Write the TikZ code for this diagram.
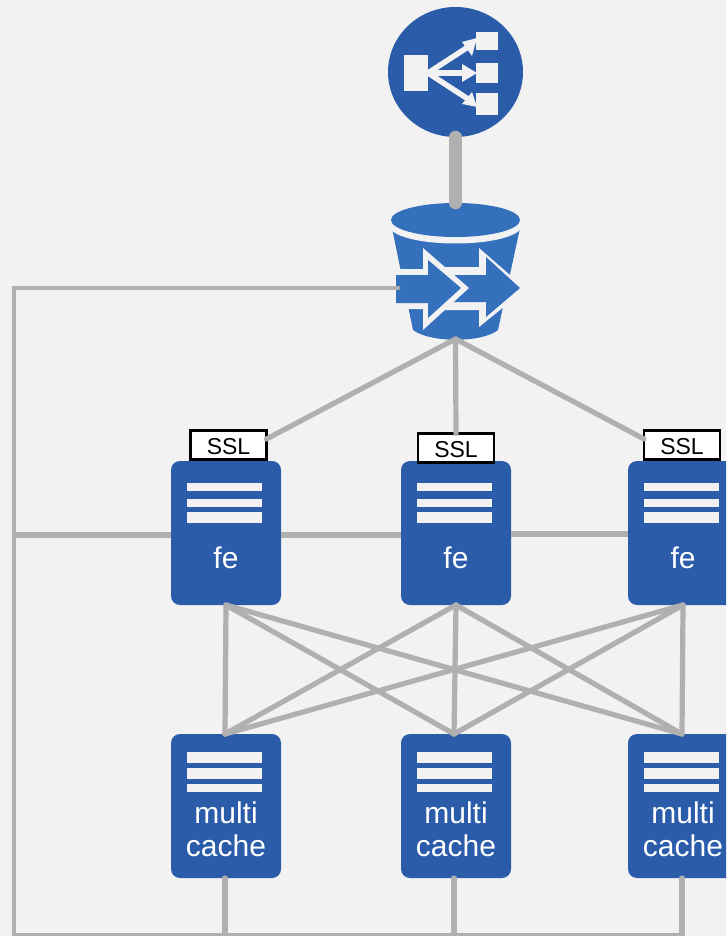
\documentclass[tikz,border=0pt]{standalone}
\usepackage{fontspec}
\setmainfont{Liberation Sans}
\usetikzlibrary{shapes.geometric}
\definecolor{bgc}{HTML}{F2F2F2}
\definecolor{srv}{HTML}{2A5CAA}
\definecolor{bkt}{HTML}{3470BC}
\definecolor{wire}{HTML}{B0B0B0}
\tikzset{
  wirelink/.style={draw=wire,line width=5.2pt,line cap=round,line join=miter},
  heavylink/.style={draw=wire,line width=12.5pt,line cap=round},
  server/.style={draw=none,fill=srv,rounded corners=9pt,minimum width=110pt,minimum height=144pt,inner sep=0pt,outer sep=0pt},
  sslbox/.style={draw=black,line width=2.6pt,fill=white,minimum width=76pt,minimum height=29pt,inner sep=0pt,outer sep=0pt},
  ssltext/.style={text=black,font=\fontsize{23}{23}\selectfont,anchor=base,inner sep=0pt},
  srvtext/.style={text=white,font=\fontsize{30}{30}\selectfont,anchor=base,inner sep=0pt},
  bar/.style={fill=bgc,draw=none},
  icon/.style={fill=bgc,draw=none}
}
\begin{document}
\begin{tikzpicture}[x=1pt,y=-1pt]
\useasboundingbox (0,0) rectangle (726,936);
\clip (0,0) rectangle (726,936);
\fill[bgc] (0,0) rectangle (726,936);

% load balancer
\node[ellipse,fill=srv,draw=none,minimum width=135pt,minimum height=130pt,inner sep=0pt,outer sep=0pt] (lb) at (455.5,72) {};
\fill[icon] (404,55) rectangle (428,91);
\fill[icon] (476,32) rectangle (498,50);
\fill[icon] (476,63) rectangle (498,83);
\fill[icon] (476,93) rectangle (498,115);
\draw[bgc,line width=5.5pt] (428,73) -- (468,47);
\draw[bgc,line width=5.5pt] (428,73) -- (465,73);
\draw[bgc,line width=5.5pt] (428,73) -- (468,99);
\fill[icon] (477,38) -- (462,42) -- (472,56) -- cycle;
\fill[icon] (477,73) -- (462,64) -- (462,82) -- cycle;
\fill[icon] (477,107) -- (462,104) -- (472,92) -- cycle;

% elastic load balancer bucket
\node[minimum width=129pt,minimum height=136pt,inner sep=0pt,outer sep=0pt] (elb) at (455.5,271) {};
\fill[bkt] (392,228) -- (413,330) .. controls (430,343) and (482,343) .. (498,330) -- (520,228) -- cycle;
\fill[bgc] (455.5,226) ellipse [x radius=66, y radius=17.5];
\fill[bkt] (455.5,220) ellipse [x radius=64.5, y radius=17];
% rear arrow
\fill[bgc] (440,267) -- (479,267) -- (479,248) -- (526,289) -- (479,327) -- (479,310) -- (440,310) -- cycle;
\fill[bkt] (440,275) -- (486,275) -- (486,257) -- (520,288) -- (486,317) -- (486,302) -- (440,302) -- cycle;
% front arrow
\fill[bgc] (396,269) -- (423,269) -- (423,248) -- (469,288) -- (423,330) -- (423,309) -- (396,309) -- cycle;
\fill[bkt] (396,275) -- (428,275) -- (428,260) -- (461,288) -- (428,318) -- (428,303) -- (396,303) -- cycle;

% servers
\node[server] (fe1) at (226,533) {};
\node[server] (fe2) at (456,533) {};
\node[server] (fe3) at (683,533) {};
\node[server] (c1) at (226,806) {};
\node[server] (c2) at (456,806) {};
\node[server] (c3) at (683,806) {};

% bars
\foreach \x in {187,417,644}{
  \fill[bar] (\x,483) rectangle ++(75,8);
  \fill[bar] (\x,499) rectangle ++(75,8);
  \fill[bar] (\x,512) rectangle ++(75,11);
  \fill[bar] (\x,752) rectangle ++(75,11);
  \fill[bar] (\x,768) rectangle ++(75,11);
  \fill[bar] (\x,784) rectangle ++(75,8);
}

% labels
\node[srvtext] (fe1t) at (226,568) {fe};
\node[srvtext] (fe2t) at (456,568) {fe};
\node[srvtext] (fe3t) at (683,568) {fe};
\node[srvtext] (m1) at (226,823) {multi};
\node[srvtext] (m2) at (456,823) {multi};
\node[srvtext] (m3) at (683,823) {multi};
\node[srvtext] (k1) at (226,856) {cache};
\node[srvtext] (k2) at (456,856) {cache};
\node[srvtext] (k3) at (683,856) {cache};

% ssl
\node[sslbox] (ssl1) at (228.5,445) {};
\node[sslbox] (ssl2) at (456,448) {};
\node[sslbox] (ssl3) at (682,445) {};
\node[ssltext] (s1t) at (228.5,454) {SSL};
\node[ssltext] (s2t) at (456,457) {SSL};
\node[ssltext] (s3t) at (682,454) {SSL};

% junctions
\coordinate (tap) at (398,288);
\coordinate (tl) at (14,288);
\coordinate (ml) at (14,535);
\coordinate (bl) at (14,935);
\coordinate (b1) at (225,935);
\coordinate (b2) at (454,935);
\coordinate (b3) at (682,935);

% connectors
\draw[heavylink] (lb.south) -- (elb.north);
\draw[wirelink] (elb.south) -- (ssl1.9);
\draw[wirelink] (elb.south) -- (ssl2.north);
\draw[wirelink] (elb.south) -- (ssl3.171);
\draw[wirelink,line cap=butt] (ml) -- (fe1.west |- ml);
\draw[wirelink,line cap=butt] (fe1.east |- ml) -- (fe2.west |- ml);
\draw[wirelink,line cap=butt] (fe2.east |- 0,534) -- (fe3.west |- 0,534);
\draw[wirelink,line width=4.5pt] (tap) -- (tl) -- (bl) -- (b3);
\foreach \f in {fe1,fe2,fe3}{
  \draw[wirelink] (\f.south) -- ([xshift=-1pt]c1.north);
  \draw[wirelink] (\f.south) -- ([xshift=-2pt]c2.north);
  \draw[wirelink] (\f.south) -- ([xshift=-1pt]c3.north);
}
\draw[wirelink] ([xshift=-1pt]c1.south) -- (b1);
\draw[wirelink] ([xshift=-2pt]c2.south) -- (b2);
\draw[wirelink] ([xshift=-1pt]c3.south) -- (b3);
\end{tikzpicture}
\end{document}
